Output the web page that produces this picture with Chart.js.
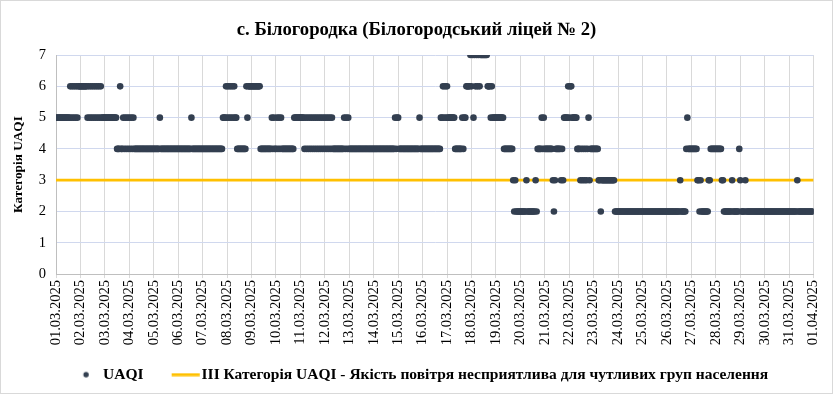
<!DOCTYPE html>
<html><head><meta charset="utf-8">
<script src="https://cdn.jsdelivr.net/npm/chart.js@4.4.0/dist/chart.umd.min.js"></script>
<style>html,body{margin:0;padding:0;background:#fff;}#wrap{width:833px;height:394px;}</style>
</head><body><div id="wrap"><canvas id="c" width="833" height="394"></canvas></div>
<script>
const chartTitle = 'с. Білогородка (Білогородський ліцей № 2)';
const yAxisTitle = 'Категорія UAQI';
const seriesNames = ['UAQI', 'ІІІ Категорія UAQI - Якість повітря несприятлива для чутливих груп населення'];
const dateLabels = ['01.03.2025','02.03.2025','03.03.2025','04.03.2025','05.03.2025','06.03.2025','07.03.2025','08.03.2025','09.03.2025','10.03.2025','11.03.2025','12.03.2025','13.03.2025','14.03.2025','15.03.2025','16.03.2025','17.03.2025','18.03.2025','19.03.2025','20.03.2025','21.03.2025','22.03.2025','23.03.2025','24.03.2025','25.03.2025','26.03.2025','27.03.2025','28.03.2025','29.03.2025','30.03.2025','31.03.2025','01.04.2025'];
// hourly UAQI category, one 24-character string per day (hours 00..23)
const uaqiHourlyByDay = [
  '555555555555556565656566',
  '666666656565656565656555',
  '555555555555444644545454',
  '545454444444444444444444',
  '444444544444444444444444',
  '444444444444454444444444',
  '444444444444444444445556',
  '565656565544444444465666',
  '666666666444444444445454',
  '454545444444444444555555',
  '555545454545454545454545',
  '454545454444444444454545',
  '444444444444444444444444',
  '444444444444444444444545',
  '544444444444444444444544',
  '444444444444444444556565',
  '655555554444444545566667',
  '675767676777777766656555',
  '555555554444444443232222',
  '222222322222222324444545',
  '444444443234444434355556',
  '566555554443434343453444',
  '444443323333333333333222',
  '222222222222222222222222',
  '222222222222222222222222',
  '222222222222232222245444',
  '444444332322222223344444',
  '444444332222222232222224',
  '322223222222222222222222',
  '222222222222222222222222',
  '222222223222222222222222'
];
const thresholdLevel = 3;
const yMin = 0, yMax = 7;

const hoursPerDay = 24;
const uaqiPoints = [];
uaqiHourlyByDay.forEach((s, d) => {
  for (let h = 0; h < s.length; h++) uaqiPoints.push({x: d * hoursPerDay + h, y: Number(s[h])});
});
const lastHour = (dateLabels.length - 1) * hoursPerDay;
const thresholdPoints = [{x: 0, y: thresholdLevel}, {x: lastHour, y: thresholdLevel}];

// legend icons (box width 36; icons offset inside transparent canvases)
function makeDot() {
  const c = document.createElement('canvas'); c.width = 25; c.height = 8;
  const g = c.getContext('2d'); g.fillStyle = '#333F50';
  g.beginPath(); g.arc(21.25, 4, 2.7, 0, Math.PI * 2); g.fill(); return c;
}
function makeLine() {
  const c = document.createElement('canvas'); c.width = 48; c.height = 4;
  const g = c.getContext('2d'); g.strokeStyle = '#FFC000'; g.lineWidth = 3;
  g.beginPath(); g.moveTo(19.75, 2); g.lineTo(47.75, 2); g.stroke(); return c;
}
const icons = [makeDot(), makeLine()];

const framePlugin = {
  id: 'frame',
  afterLayout(c) {
    // centre title and legend on the whole canvas, not on the padded area
    const dx = 5.5;
    if (c.legend) { c.legend.left += dx; c.legend.right += dx; }
    if (c.titleBlock) { c.titleBlock.left += 8.25; c.titleBlock.right += 8.25; }
  },
  beforeDraw(c) { const g = c.ctx; g.save(); g.fillStyle = '#fff'; g.fillRect(0, 0, c.width, c.height); g.restore(); },
  afterDraw(c) { const g = c.ctx; g.save(); g.strokeStyle = '#D9D9D9'; g.lineWidth = 1; g.strokeRect(0.5, 0.5, c.width - 1, c.height - 1); g.restore(); }
};

Chart.defaults.font.family = "'Liberation Serif','Times New Roman',serif";
Chart.defaults.color = '#000';

new Chart(document.getElementById('c'), {
  type: 'scatter',
  data: {
    datasets: [
      {label: seriesNames[0], data: uaqiPoints, showLine: false, pointRadius: 3.3, pointHoverRadius: 3.3,
       pointBackgroundColor: '#333F50', pointBorderWidth: 0, borderColor: '#333F50', backgroundColor: '#333F50'},
      {label: seriesNames[1], data: thresholdPoints, showLine: true, borderColor: '#FFC000', borderWidth: 2.8,
       pointRadius: 0, pointHoverRadius: 0, fill: false}
    ]
  },
  options: {
    responsive: false, animation: false, events: [],
    layout: {padding: {left: 0, right: 16.5, top: 0, bottom: 1.6}},
    plugins: {
      title: {display: true, text: chartTitle, color: '#000', font: {size: 18.7, weight: 'bold'}, padding: {top: 19.3, bottom: 13.3}},
      legend: {position: 'bottom', labels: {usePointStyle: true, pointStyleWidth: 36, padding: 14.3, color: '#000',
        font: {size: 15.5, weight: 'bold'},
        generateLabels: (chart) => chart.data.datasets.map((ds, i) => ({
          text: ds.label, pointStyle: icons[i], fillStyle: 'rgba(0,0,0,0)', strokeStyle: 'rgba(0,0,0,0)',
          lineWidth: 0, hidden: false, datasetIndex: i, fontColor: '#000'}))}},
      tooltip: {enabled: false}
    },
    scales: {
      x: {type: 'linear', min: 0, max: lastHour,
        afterFit(s) { s.height = 78.5; },
        afterBuildTicks(s) { s.ticks = dateLabels.map((_, i) => ({value: i * hoursPerDay})); },
        ticks: {autoSkip: false, maxRotation: 90, minRotation: 90, padding: 2, font: {size: 14.5}, color: '#000',
          callback: (v) => dateLabels[Math.round(v / hoursPerDay)]},
        grid: {color: '#D9D9D9', tickLength: 4, drawTicks: true},
        border: {color: '#BFBFBF'}},
      y: {min: yMin, max: yMax,
        afterFit(s) { s.width = 56; },
        ticks: {stepSize: 1, padding: 10, font: {size: 14.5}, color: '#000'},
        grid: {color: '#D0D8EE', drawTicks: false},
        border: {color: '#BFBFBF'},
        title: {display: true, text: yAxisTitle, color: '#000', font: {size: 13.3, weight: 'bold'}, padding: {top: 11, bottom: 0}}}
    }
  },
  plugins: [framePlugin]
});
</script></body></html>
